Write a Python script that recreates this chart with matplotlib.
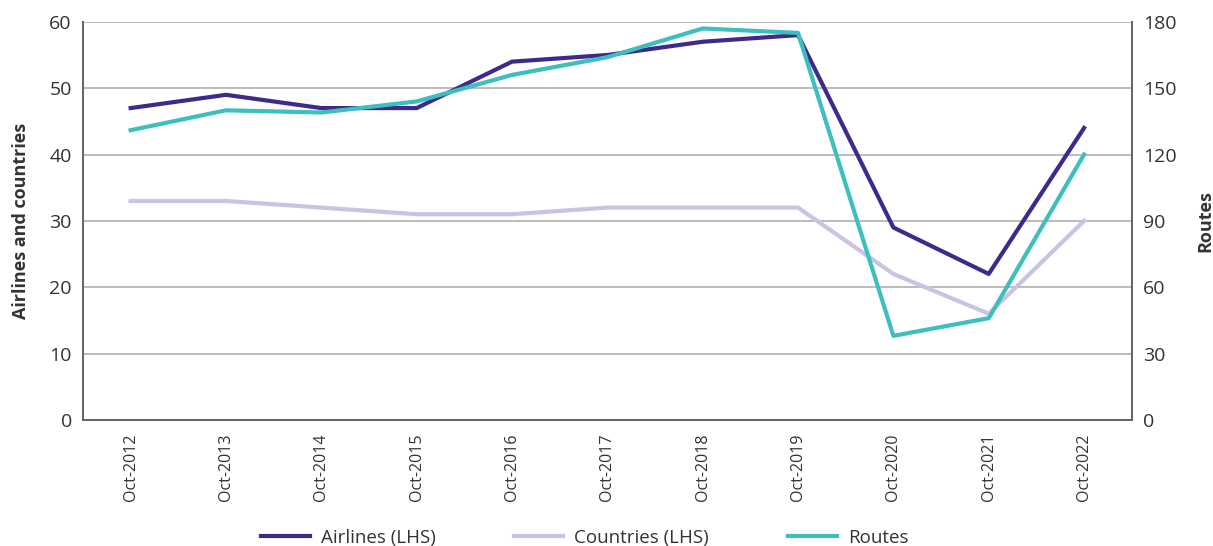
import matplotlib.pyplot as plt
import numpy as np

plt.rcParams['font.family'] = ['Open Sans', 'DejaVu Sans']

dates = ["Oct-2012", "Oct-2013", "Oct-2014", "Oct-2015", "Oct-2016", "Oct-2017",
         "Oct-2018", "Oct-2019", "Oct-2020", "Oct-2021", "Oct-2022"]
airlines = [47, 49, 47, 47, 54, 55, 57, 58, 29, 22, 44]
countries = [33, 33, 32, 31, 31, 32, 32, 32, 22, 16, 30]
routes = [131, 140, 139, 144, 156, 164, 177, 175, 38, 46, 120]

c_air = "#3f2a8c"
c_cty = "#c9c4e2"
c_rte = "#3cbfbd"
txt = "#333333"

fig, ax = plt.subplots(figsize=(12.13, 5.46), dpi=100)
fig.subplots_adjust(left=0.0684, right=0.933, top=0.96, bottom=0.231)
ax2 = ax.twinx()

x = np.arange(len(dates))
l1, = ax.plot(x, airlines, color=c_air, lw=3, label="Airlines (LHS)", zorder=3)
l2, = ax.plot(x, countries, color=c_cty, lw=3, label="Countries (LHS)", zorder=2)
l3, = ax2.plot(x, routes, color=c_rte, lw=3, label="Routes", zorder=3)

ax.set_xlim(-0.5, len(dates) - 0.5)
ax.set_ylim(0, 60)
ax2.set_ylim(0, 180)
ax.set_yticks(range(0, 61, 10))
ax2.set_yticks(range(0, 181, 30))
ax.set_xticks(x)
ax.set_xticklabels(dates, rotation=90, fontsize=11.5, color=txt)
ax.grid(axis="y", color="#b0b0b0", lw=1.2)
ax.set_axisbelow(True)

for a in (ax, ax2):
    a.spines["top"].set_visible(False)
    for s in ("left", "right", "bottom"):
        a.spines[s].set_color("#666666")
        a.spines[s].set_linewidth(1.3)
    a.tick_params(axis="y", length=0, labelsize=14, labelcolor=txt, pad=8)
ax.tick_params(axis="x", length=0, pad=10)

ax.set_ylabel("Airlines and countries", fontsize=13, fontweight="bold", color=txt, labelpad=14)
ax2.set_ylabel("Routes", fontsize=13, fontweight="bold", color=txt, labelpad=14)

fig.legend(handles=[l1, l2, l3], loc="center", bbox_to_anchor=(0.482, 0.015),
           ncol=3, frameon=False, fontsize=13.5, handlelength=2.6, handletextpad=0.6,
           columnspacing=4.2, labelcolor=txt, borderpad=0)

plt.savefig("out.png")
